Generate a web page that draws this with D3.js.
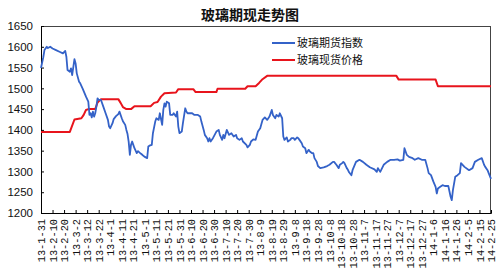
<!DOCTYPE html>
<html><head><meta charset="utf-8">
<script src="https://cdn.jsdelivr.net/npm/d3@7"></script>
<style>
html,body{margin:0;padding:0;background:#fff;}
svg{display:block;}
</style></head>
<body>
<svg id="chart" width="500" height="271"></svg>
<script>
const titleText = "玻璃期现走势图";
const seriesNames = ["玻璃期货指数", "玻璃现货价格"];
const yTicks = [1200, 1250, 1300, 1350, 1400, 1450, 1500, 1550, 1600, 1650];
const xTickLabels = ["13-1-31","13-2-10","13-2-20","13-3-2","13-3-12","13-3-22","13-4-1","13-4-11","13-4-21","13-5-1","13-5-11","13-5-21","13-5-31","13-6-10","13-6-20","13-6-30","13-7-10","13-7-20","13-7-30","13-8-9","13-8-19","13-8-29","13-9-8","13-9-18","13-9-28","13-10-8","13-10-18","13-10-28","13-11-7","13-11-17","13-11-27","13-12-7","13-12-17","13-12-27","14-1-6","14-1-16","14-1-26","14-2-5","14-2-15","14-2-25"];

const futuresDates = ["13-1-31","13-2-2","13-2-3","13-2-5","13-2-6","13-2-8","13-2-10","13-2-13","13-2-16","13-2-19","13-2-21","13-2-22","13-2-23","13-2-25","13-2-26","13-2-27","13-3-1","13-3-2","13-3-3","13-3-5","13-3-6","13-3-8","13-3-11","13-3-13","13-3-14","13-3-15","13-3-16","13-3-17","13-3-18","13-3-19","13-3-20","13-3-21","13-3-22","13-3-24","13-3-26","13-3-28","13-3-30","13-3-31","13-4-1","13-4-3","13-4-4","13-4-6","13-4-8","13-4-9","13-4-11","13-4-12","13-4-14","13-4-15","13-4-16","13-4-17","13-4-18","13-4-19","13-4-20","13-4-21","13-4-22","13-4-24","13-4-25","13-4-27","13-4-28","13-4-30","13-5-1","13-5-3","13-5-4","13-5-5","13-5-7","13-5-8","13-5-10","13-5-11","13-5-13","13-5-14","13-5-16","13-5-17","13-5-18","13-5-19","13-5-20","13-5-22","13-5-23","13-5-25","13-5-26","13-5-28","13-5-29","13-5-30","13-5-31","13-6-2","13-6-3","13-6-5","13-6-6","13-6-7","13-6-9","13-6-11","13-6-13","13-6-16","13-6-18","13-6-19","13-6-21","13-6-22","13-6-24","13-6-25","13-6-26","13-6-27","13-6-29","13-7-2","13-7-4","13-7-5","13-7-7","13-7-8","13-7-9","13-7-11","13-7-13","13-7-15","13-7-17","13-7-19","13-7-20","13-7-22","13-7-24","13-7-25","13-7-28","13-7-29","13-7-31","13-8-1","13-8-3","13-8-5","13-8-7","13-8-9","13-8-11","13-8-13","13-8-15","13-8-17","13-8-19","13-8-20","13-8-22","13-8-23","13-8-25","13-8-26","13-8-28","13-8-29","13-8-30","13-9-1","13-9-2","13-9-4","13-9-5","13-9-7","13-9-8","13-9-10","13-9-11","13-9-12","13-9-14","13-9-15","13-9-17","13-9-18","13-9-20","13-9-21","13-9-23","13-9-24","13-9-25","13-9-27","13-9-28","13-9-30","13-10-3","13-10-6","13-10-8","13-10-11","13-10-12","13-10-14","13-10-16","13-10-17","13-10-19","13-10-20","13-10-21","13-10-23","13-10-24","13-10-25","13-10-27","13-10-28","13-10-31","13-11-3","13-11-6","13-11-9","13-11-12","13-11-16","13-11-18","13-11-19","13-11-21","13-11-24","13-11-27","13-11-30","13-12-3","13-12-6","13-12-8","13-12-11","13-12-12","13-12-14","13-12-16","13-12-19","13-12-21","13-12-24","13-12-27","13-12-30","14-1-1","14-1-2","14-1-4","14-1-6","14-1-8","14-1-9","14-1-10","14-1-12","14-1-14","14-1-16","14-1-19","14-1-21","14-1-22","14-1-23","14-1-25","14-1-27","14-1-29","14-1-30","14-2-2","14-2-6","14-2-9","14-2-11","14-2-14","14-2-17","14-2-19","14-2-20","14-2-22","14-2-23","14-2-25"];
const futuresValues = [1549,1575,1592,1600,1597,1600,1596,1592,1588,1584,1590,1576,1544,1540,1548,1532,1570,1560,1536,1516,1512,1500,1480,1468,1436,1440,1430,1444,1432,1440,1456,1476,1472,1472,1456,1440,1424,1408,1404,1416,1426,1433,1438,1444,1428,1421,1412,1400,1390,1371,1340,1364,1372,1364,1356,1344,1349,1344,1342,1337,1335,1332,1360,1362,1364,1392,1420,1428,1424,1440,1412,1448,1464,1456,1468,1464,1436,1436,1440,1432,1444,1408,1392,1396,1416,1452,1444,1440,1440,1440,1436,1436,1432,1420,1400,1388,1380,1372,1380,1372,1380,1396,1400,1388,1376,1388,1380,1400,1388,1392,1384,1388,1380,1376,1380,1372,1364,1358,1364,1372,1377,1376,1396,1404,1424,1430,1424,1432,1448,1436,1428,1436,1432,1440,1428,1384,1376,1382,1372,1376,1380,1380,1376,1382,1380,1376,1368,1360,1356,1344,1352,1348,1344,1344,1332,1323,1313,1308,1310,1313,1316,1323,1323,1316,1308,1316,1320,1323,1320,1308,1304,1298,1291,1303,1323,1328,1323,1316,1310,1305,1299,1308,1299,1316,1323,1328,1328,1329,1326,1328,1356,1340,1335,1332,1328,1332,1328,1328,1308,1296,1291,1276,1263,1247,1259,1263,1267,1265,1265,1239,1231,1255,1287,1291,1296,1320,1311,1303,1308,1323,1328,1332,1316,1311,1303,1296,1282];

const spotDates = ["13-1-31","13-2-25","13-3-1","13-3-7","13-3-9","13-3-11","13-3-13","13-3-19","13-3-21","13-3-24","13-4-8","13-4-10","13-4-12","13-4-15","13-4-19","13-4-22","13-5-6","13-5-9","13-5-12","13-5-15","13-5-18","13-5-28","13-5-30","13-6-12","13-6-14","13-7-2","13-7-3","13-7-27","13-7-29","13-8-5","13-8-8","13-8-11","13-8-15","13-12-5","13-12-7","14-1-8","14-1-10","14-2-25"];
const spotValues = [1395,1395,1425,1428,1436,1448,1450,1450,1466,1474,1474,1465,1455,1450,1450,1457,1457,1465,1467,1480,1488,1490,1498,1498,1491,1491,1499,1499,1505,1505,1513,1522,1530,1530,1521,1521,1505,1505];

const parse = d3.timeParse("%y-%m-%d");
const futures = futuresDates.map((d, i) => ({date: parse(d), value: futuresValues[i]}));
const spot = spotDates.map((d, i) => ({date: parse(d), value: spotValues[i]}));
const tickDates = xTickLabels.map(parse);

const margin = {left: 41, right: 9, top: 26, bottom: 58};
const W = 500, H = 271;
const svg = d3.select("#chart");

const x = d3.scaleTime()
  .domain([tickDates[0], tickDates[tickDates.length - 1]])
  .range([margin.left, W - margin.right]);
const y = d3.scaleLinear()
  .domain([yTicks[0], yTicks[yTicks.length - 1]])
  .range([H - margin.bottom, margin.top]);

// frame
svg.append("rect")
  .attr("x", margin.left + 0.5).attr("y", margin.top + 0.5)
  .attr("width", W - margin.right - margin.left - 1)
  .attr("height", H - margin.bottom - margin.top)
  .attr("fill", "none").attr("stroke", "#444").attr("stroke-width", 1);

// title
svg.append("text")
  .attr("x", 250).attr("y", 20)
  .attr("text-anchor", "middle")
  .attr("font-family", "'Noto Sans CJK SC', sans-serif")
  .attr("font-weight", "bold")
  .attr("font-size", 14)
  .attr("fill", "#111")
  .text(titleText);

// y axis
const yAxis = svg.append("g")
  .attr("transform", `translate(${margin.left},0)`)
  .call(d3.axisLeft(y).tickValues(yTicks).tickSize(-3).tickPadding(8).tickFormat(d3.format("d")));
yAxis.select(".domain").attr("stroke", "#000");
yAxis.selectAll(".tick line").attr("stroke", "#000");
yAxis.selectAll("text")
  .attr("font-family", "'Liberation Sans', Arial, sans-serif")
  .attr("font-size", 11.5)
  .attr("fill", "#111");

// x axis
const xAxis = svg.append("g")
  .attr("transform", `translate(0,${H - margin.bottom})`)
  .call(d3.axisBottom(x).tickValues(tickDates).tickSize(-3)
    .tickFormat((d, i) => xTickLabels[i]));
xAxis.select(".domain").attr("stroke", "#000");
xAxis.selectAll(".tick line").attr("stroke", "#000");
xAxis.selectAll("text")
  .attr("font-family", "'Liberation Mono', monospace")
  .attr("font-size", 10.3)
  .attr("fill", "#111")
  .attr("text-anchor", "end")
  .attr("transform", "rotate(-90)")
  .attr("x", -6)
  .attr("y", 0)
  .attr("dy", "0.35em");

const line = d3.line().x(d => x(d.date)).y(d => y(d.value));

svg.append("path").datum(spot)
  .attr("d", line)
  .attr("fill", "none")
  .attr("stroke", "#e8141c")
  .attr("stroke-width", 2)
  .attr("stroke-linejoin", "round");

svg.append("path").datum(futures)
  .attr("d", line)
  .attr("fill", "none")
  .attr("stroke", "#3462c8")
  .attr("stroke-width", 1.8)
  .attr("stroke-linejoin", "round");

// legend
const legendColors = ["#3462c8", "#e8141c"];
const legend = svg.append("g");
seriesNames.forEach((name, i) => {
  const ly = 43 + i * 17;
  legend.append("line")
    .attr("x1", 272).attr("x2", 295).attr("y1", ly).attr("y2", ly)
    .attr("stroke", legendColors[i]).attr("stroke-width", 2);
  legend.append("text")
    .attr("x", 297).attr("y", ly).attr("dy", "0.36em")
    .attr("font-family", "'Noto Sans CJK SC', sans-serif")
    .attr("font-size", 11)
    .attr("fill", "#111")
    .text(name);
});
</script>
</body></html>
